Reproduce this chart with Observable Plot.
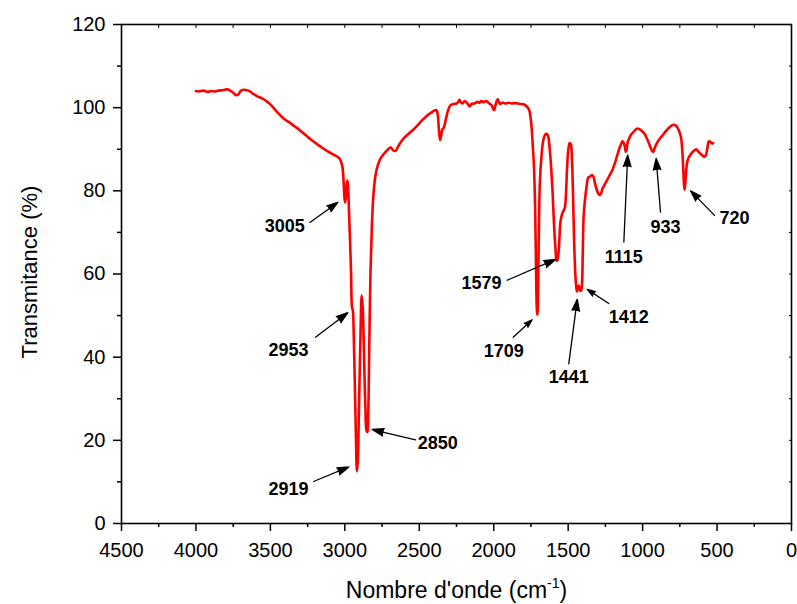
<!DOCTYPE html>
<html><head><meta charset="utf-8">
<script src="https://cdn.jsdelivr.net/npm/d3@7"></script>
<script src="https://cdn.jsdelivr.net/npm/@observablehq/plot@0.6"></script>
<style>body{margin:0;background:#fff}</style>
</head><body><div id="chart"></div>
<script>
// Spectrum (wavenumber cm-1, transmittance %)
const wavenumber = [4000,3980,3950,3920,3900,3870,3850,3820,3790,3770,3750,3730,3715,3700,3680,3660,3640,3620,3600,3580,3560,3540,3520,3500,3470,3440,3420,3400,3370,3340,3310,3290,3260,3230,3200,3170,3150,3120,3100,3070,3050,3035,3025,3015,3008,3003,2998,2993,2988,2983,2978,2972,2965,2958,2952,2946,2940,2932,2925,2919,2913,2905,2895,2887,2880,2872,2862,2854,2848,2843,2836,2828,2818,2808,2795,2780,2760,2740,2720,2700,2690,2675,2660,2640,2620,2600,2570,2540,2510,2480,2450,2420,2400,2385,2375,2368,2360,2352,2345,2335,2320,2305,2290,2270,2250,2240,2230,2222,2210,2195,2180,2170,2160,2150,2130,2110,2095,2085,2070,2055,2045,2030,2015,2005,1997,1990,1980,1973,1965,1955,1940,1920,1900,1880,1860,1840,1820,1800,1785,1770,1760,1752,1745,1738,1730,1722,1716,1711,1708,1705,1701,1697,1690,1680,1668,1655,1645,1635,1625,1615,1605,1595,1585,1578,1572,1565,1558,1552,1540,1530,1522,1515,1508,1500,1490,1482,1475,1468,1460,1452,1446,1441,1436,1430,1425,1418,1412,1407,1402,1396,1388,1378,1365,1350,1340,1330,1320,1310,1300,1290,1280,1270,1255,1245,1235,1225,1215,1205,1195,1185,1175,1165,1155,1145,1135,1128,1120,1113,1108,1100,1090,1080,1065,1050,1035,1020,1005,995,985,975,965,955,945,935,928,920,905,890,875,860,845,830,815,800,790,780,770,760,750,742,735,728,722,718,713,707,700,690,680,665,650,640,625,610,595,585,575,565,555,545,535,526];
const transmittance = [104.0,103.9,104.1,103.8,104.0,103.9,104.1,104.2,104.4,104.1,103.6,103.0,103.2,104.0,104.3,104.2,104.0,103.4,103.0,102.6,102.3,101.9,101.4,100.8,99.6,98.4,97.7,97.1,96.4,95.6,94.8,94.2,93.3,92.4,91.6,90.8,90.3,89.6,89.2,88.6,88.2,87.7,87.0,85.5,82.0,78.5,77.2,78.5,81.5,82.5,81.0,75.0,68.0,60.0,52.0,51.2,45.0,32.0,20.0,12.6,15.0,28.0,45.0,54.8,52.0,42.0,28.0,22.3,22.0,26.0,42.0,60.0,72.0,79.0,83.5,86.0,87.8,88.8,89.6,90.3,90.4,89.7,89.6,90.8,91.9,92.8,93.8,94.7,95.8,97.0,98.0,98.8,99.3,99.4,98.0,94.5,92.2,93.5,94.8,95.2,97.5,99.5,100.6,100.9,101.0,101.3,101.9,101.4,101.0,101.6,101.2,100.6,100.3,100.9,101.0,101.4,101.2,101.6,101.3,101.6,101.5,101.0,100.6,99.8,99.4,100.3,101.6,102.0,101.3,100.9,101.2,101.0,101.2,101.0,101.1,101.0,100.9,100.8,100.5,100.0,99.2,97.5,95.0,91.0,86.0,76.0,62.0,52.0,50.2,51.0,58.0,70.0,82.0,88.0,92.0,93.5,93.7,93.2,90.5,86.0,80.0,72.0,66.0,63.2,63.4,65.0,69.0,72.5,74.5,75.3,76.0,79.0,85.0,89.5,91.5,91.2,88.0,80.0,68.0,60.0,57.0,55.8,56.4,57.2,56.8,55.9,56.1,57.5,65.0,74.0,77.5,80.5,83.2,83.5,83.8,83.4,81.8,80.5,79.5,79.0,79.3,80.5,81.5,82.2,82.8,83.5,84.2,84.8,85.8,86.8,88.0,89.2,90.3,91.2,91.9,91.6,90.8,89.4,89.8,91.8,92.6,93.4,94.0,94.6,95.0,94.8,94.4,94.0,93.6,92.9,92.1,91.2,90.3,89.5,89.4,90.2,91.4,92.3,93.0,93.6,94.3,94.9,95.4,95.8,95.9,95.8,95.4,94.8,93.9,92.8,90.5,86.0,81.5,80.3,82.0,85.0,87.0,88.0,88.6,89.3,89.8,90.0,89.4,88.9,88.4,88.2,88.6,90.3,91.9,91.8,91.4,91.5];

// Peak annotations (label, text position, arrow tail, arrow head) in data units
const peakLabels = ["3005","2953","2919","2850","1709","1579","1441","1412","1115","933","720"];
const labelWn    = [3403, 3378, 3378, 2376, 1932, 2082, 1496, 1093, 1126, 846, 383];
const labelT     = [71.6, 41.6, 8.2, 19.4, 41.5, 57.7, 35.1, 49.7, 64.1, 71.2, 73.4];
const tailWn     = [3235, 3197, 3210, 2525, 1869, 1910, 1496, 1227, 1126, 880, 517];
const tailT      = [72.4, 44.8, 10.1, 20.1, 44.8, 58.5, 38.4, 52.9, 67.7, 74.9, 74.1];
const headWn     = [3047, 2980, 2973, 2816, 1742, 1585, 1439, 1372, 1100, 909, 678];
const headT      = [77.2, 50.7, 13.6, 22.6, 49.0, 63.5, 53.9, 56.3, 88.6, 87.8, 80.0];

const xMajorTicks = [4500,4000,3500,3000,2500,2000,1500,1000,500,0];
const yMajorTicks = [0,20,40,60,80,100,120];
const xLabel = "Nombre d'onde (cm-1)";
const yLabel = "Transmitance (%)";

const spectrum = wavenumber.map((w, i) => ({w, t: transmittance[i]}));
const notes = peakLabels.map((label, i) => ({
  label, lx: labelWn[i], ly: labelT[i], x1: tailWn[i], y1: tailT[i], x2: headWn[i], y2: headT[i]
}));
const xMinor = d3.range(250, 4500, 500);
const yMinor = d3.range(10, 120, 20);
const blank = () => "";

const chart = Plot.plot({
  width: 797,
  height: 604,
  marginTop: 24,
  marginBottom: 81,
  marginLeft: 121,
  marginRight: 6,
  style: {fontFamily: "Arial, 'Liberation Sans', sans-serif", fontSize: "20px", color: "black", background: "white"},
  x: {domain: [4500, 0]},
  y: {domain: [0, 120]},
  marks: [
    Plot.axisX({ticks: xMajorTicks, tickSize: 8, tickPadding: 11, tickFormat: d => String(d), label: null, strokeWidth: 1.5, fontSize: 20}),
    Plot.axisX({ticks: xMinor, tickSize: 4, tickFormat: blank, label: null, strokeWidth: 1.5}),
    Plot.axisX({anchor: "top", ticks: d3.range(0, 4501, 250), tickSize: -3, tickFormat: blank, label: null, strokeWidth: 1}),
    Plot.axisY({ticks: yMajorTicks, tickSize: 8, tickPadding: 8, tickFormat: d => String(d), label: null, strokeWidth: 1.5, fontSize: 20}),
    Plot.axisY({ticks: yMinor, tickSize: 4, tickFormat: blank, label: null, strokeWidth: 1.5}),
    Plot.axisY({anchor: "right", ticks: d3.range(0, 121, 10), tickSize: -3, tickFormat: blank, label: null, strokeWidth: 1}),
    Plot.frame({stroke: "black", strokeWidth: 1.6}),
    Plot.line(spectrum, {x: "w", y: "t", stroke: "#ff0000", strokeWidth: 2.6, curve: "catmull-rom"}),
    Plot.arrow(notes, {x1: "x1", y1: "y1", x2: "x2", y2: "y2", stroke: "black", fill: "black", strokeWidth: 1.3, headLength: 14, headAngle: 36}),
    Plot.text(notes, {x: "lx", y: "ly", text: "label", fontWeight: "bold", fontSize: 18, fill: "black"}),
    Plot.text([xLabel], {frameAnchor: "bottom", dy: 67, lineAnchor: "middle", textAnchor: "middle", text: d => d, fontSize: 23, fill: "black"}),
    Plot.text([yLabel], {frameAnchor: "left", dx: -92, dy: -2, rotate: -90, lineAnchor: "middle", textAnchor: "middle", text: d => d, fontSize: 22, fill: "black"})
  ]
});

// Superscript for the x-axis unit
d3.select(chart).selectAll("text").each(function() {
  if (this.textContent === xLabel) {
    const t = d3.select(this);
    t.text(null);
    t.append("tspan").text("Nombre d'onde (cm");
    t.append("tspan").attr("font-size", 14).attr("dy", -10).text("-1");
    t.append("tspan").attr("dy", 10).text(")");
  }
});

document.getElementById("chart").appendChild(chart);
</script>
</body></html>
